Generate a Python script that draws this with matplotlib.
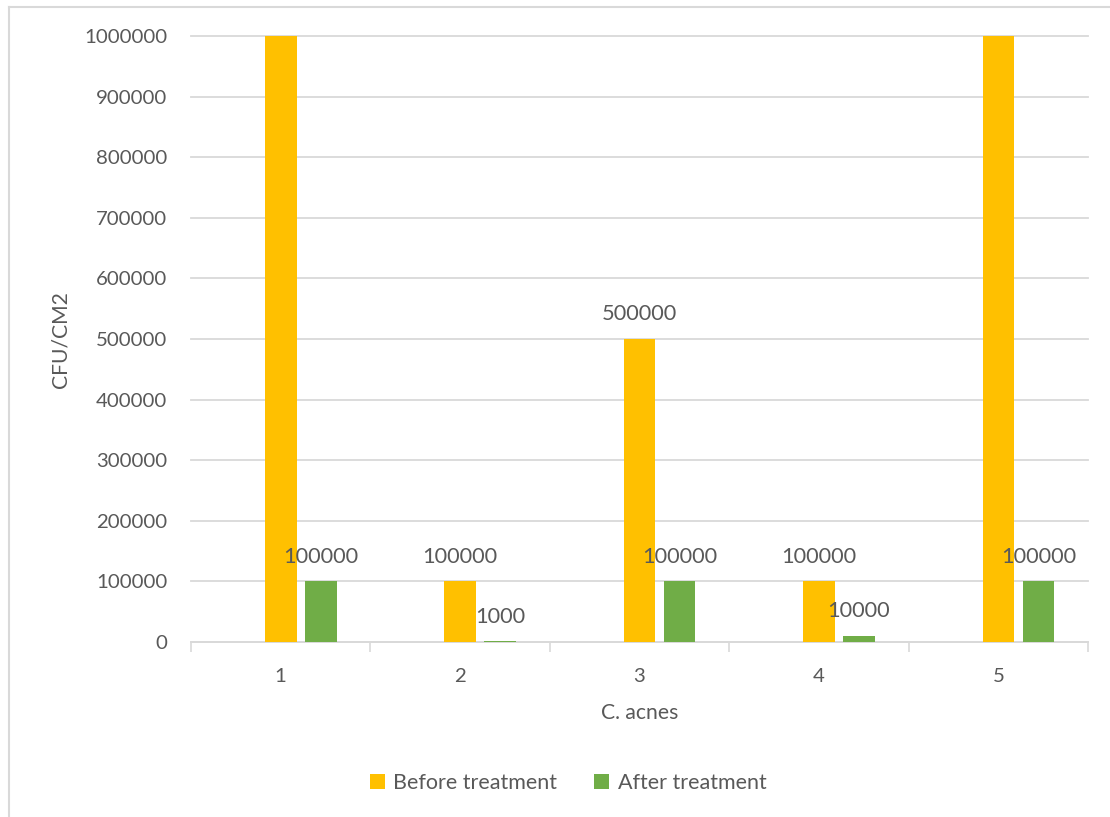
import matplotlib.pyplot as plt
from matplotlib.lines import Line2D

# data
samples = ['1', '2', '3', '4', '5']
before_treatment = [1000000, 100000, 500000, 100000, 1000000]
after_treatment = [100000, 1000, 100000, 10000, 100000]
y_ticks = [0, 100000, 200000, 300000, 400000, 500000, 600000, 700000, 800000, 900000, 1000000]

ORANGE = '#FFC000'
GREEN = '#70AD47'
TEXT = '#595959'
GRID = '#D9D9D9'

plt.rcParams['font.family'] = ['Lato', 'DejaVu Sans']

fig = plt.figure(figsize=(11.1, 8.17), dpi=100)
ax = fig.add_axes([0.1721, 0.2142, 0.8081, 0.7417])

x = list(range(len(samples)))
width = 0.176
offset = 0.223
x_after = [i + offset for i in x]

bars1 = ax.bar(x, before_treatment, width, color=ORANGE, label='Before treatment', zorder=3)
bars2 = ax.bar(x_after, after_treatment, width, color=GREEN, label='After treatment', zorder=3)

ymax = y_ticks[-1]
for bars in (bars1, bars2):
    for b in bars:
        v = b.get_height()
        if v >= ymax:
            continue  # label would fall outside plot area (hidden in original)
        ax.annotate(str(int(v)), (b.get_x() + b.get_width() / 2, v),
                    xytext=(0, 13.5), textcoords='offset points',
                    ha='center', va='baseline', fontsize=15.7, color=TEXT, zorder=4)

ax.set_xlim(-0.5, len(samples) - 0.5)
ax.set_ylim(0, ymax)
ax.set_yticks(y_ticks)
ax.set_yticklabels([str(t) for t in y_ticks])
ax.set_xticks(x)
ax.set_xticklabels(samples)
ax.set_xticks([i - 0.5 for i in range(len(samples) + 1)], minor=True)

ax.tick_params(axis='y', length=0, pad=17, labelsize=14.7, labelcolor=TEXT)
ax.tick_params(axis='x', which='major', length=0, pad=19, labelsize=14.7, labelcolor=TEXT)
ax.tick_params(axis='x', which='minor', length=7, width=1.2, color=GRID, direction='out')

ax.yaxis.grid(True, color=GRID, linewidth=1.3, zorder=0)
for gl in ax.get_ygridlines():
    gl.set_clip_on(False)
ax.set_axisbelow(True)

for side in ['top', 'right', 'left']:
    ax.spines[side].set_visible(False)
ax.spines['bottom'].set_color(GRID)
ax.spines['bottom'].set_linewidth(1.3)

fig.text(61 / 1110, 1 - 340 / 817, 'CFU/CM2', rotation=90, ha='center', va='center',
         fontsize=15.2, color=TEXT)
fig.text(640 / 1110, 1 - 713 / 817, 'C. acnes', ha='center', va='center',
         fontsize=15.2, color=TEXT)

fig.legend(handles=[bars1, bars2], labels=['Before treatment', 'After treatment'],
           loc='center', bbox_to_anchor=(568 / 1110, 1 - 783 / 817), ncol=2,
           frameon=False, fontsize=15.5, labelcolor=TEXT, handlelength=0.7,
           handleheight=0.7, handletextpad=0.4, columnspacing=1.7)

# chart area border (left and top edges visible in the original)
fig.add_artist(Line2D([9 / 1110, 9 / 1110], [0, 1 - 7 / 817], transform=fig.transFigure,
                      color=GRID, linewidth=1.5))
fig.add_artist(Line2D([9 / 1110, 1], [1 - 7 / 817, 1 - 7 / 817], transform=fig.transFigure,
                      color=GRID, linewidth=1.5))

fig.savefig('out.png', dpi=100)
